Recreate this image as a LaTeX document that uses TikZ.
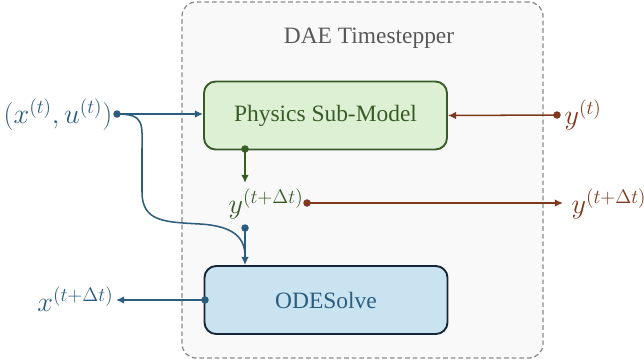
\documentclass[tikz,border=0pt]{standalone}
\usepackage{fontspec}
\setmainfont{Liberation Serif}
\usetikzlibrary{arrows.meta}

\definecolor{flowblue}{RGB}{44,92,126}
\definecolor{flowgreen}{RGB}{56,92,38}
\definecolor{flowbrown}{RGB}{126,56,28}
\definecolor{physfill}{RGB}{222,240,212}
\definecolor{odefill}{RGB}{201,227,241}
\definecolor{odeline}{RGB}{22,38,52}
\definecolor{framefill}{RGB}{249,249,249}
\definecolor{framegray}{RGB}{140,140,140}
\definecolor{titlegray}{RGB}{88,88,88}

\newcommand{\mlabel}[1]{\scalebox{1.16}{$#1$}}

\begin{document}
\begin{tikzpicture}[x=0.03cm, y=-0.03cm,
  every node/.style={font=\fontsize{20}{24}\selectfont},
  frame/.style={draw=framegray, dash pattern=on 4pt off 2.5pt, line width=1.1pt, fill=framefill, rounded corners=12pt, minimum width=10.83cm, minimum height=10.68cm},
  block/.style={rounded corners=10pt, line width=1.6pt, minimum width=7.29cm, minimum height=2.04cm},
  wire/.style={line width=1.3pt},
  tip/.style={-{Latex[length=7pt,width=6.5pt]}},
  mathlabel/.style={inner sep=2pt}]
  \useasboundingbox (0,0) rectangle (644,362);

  % outer timestepper frame
  \node[frame] (stepper) at (362.5,180) {};
  \node[text=titlegray] (title) at (369,38) {DAE Timestepper};

  % blocks
  \node[block, draw=flowgreen, fill=physfill, text=flowgreen] (phys) at (325.5,115.5) {Physics Sub-Model};
  \node[block, draw=odeline, fill=odefill, text=flowblue] (ode) at (326,300) {ODESolve};

  % labels
  \node[mathlabel, text=flowblue] (xu) at (58,115) {\mlabel{(x^{(t)},u^{(t)})}};
  \node[mathlabel, text=flowblue, anchor=east] (xnext) at (116,299) {\mlabel{x^{(t+\Delta t)}}};
  \node[mathlabel, text=flowbrown, anchor=west] (yt) at (562,115) {\mlabel{y^{(t)}}};
  \node[mathlabel, text=flowgreen] (ymid) at (266,204) {\mlabel{y^{(t+\Delta t)}}};
  \node[mathlabel, text=flowbrown, anchor=west] (yout) at (569,204) {\mlabel{y^{(t+\Delta t)}}};

  % junction points
  \coordinate (xudot) at (117,114);
  \coordinate (merge) at (245,228);
  \coordinate (physout) at (245,149);
  \coordinate (ymidtip) at (245,183);
  \coordinate (ydot) at (307,203);
  \coordinate (youttip) at (563,203);
  \coordinate (ytdot) at (557,115);
  \coordinate (odeout) at (205,300);

  % blue: inputs and state
  \draw[wire, draw=flowblue, tip] (xudot) -- (phys.west |- xudot);
  \draw[wire, draw=flowblue] (xudot) .. controls (145,114) and (142,124) .. (142,150)
    -- (142,192) .. controls (142,222) and (165,222) .. (200,224)
    .. controls (234,226) and (245,238) .. (245,256);
  \draw[wire, draw=flowblue, tip] (merge) -- (ode.north -| merge);
  \draw[wire, draw=flowblue, tip] (odeout) -- (xnext.east |- odeout);
  \fill[flowblue] (xudot) circle (3.2pt) (merge) circle (3.2pt) (odeout) circle (3.2pt);

  % green: algebraic output
  \draw[wire, draw=flowgreen, tip] (physout) -- (ymidtip);
  \fill[flowgreen] (physout) circle (3.2pt);

  % brown: algebraic variables
  \draw[wire, draw=flowbrown, tip] (ytdot) -- (phys.east);
  \draw[wire, draw=flowbrown, tip] (ydot) -- (youttip);
  \fill[flowbrown] (ytdot) circle (3.2pt) (ydot) circle (3.2pt);
\end{tikzpicture}
\end{document}
